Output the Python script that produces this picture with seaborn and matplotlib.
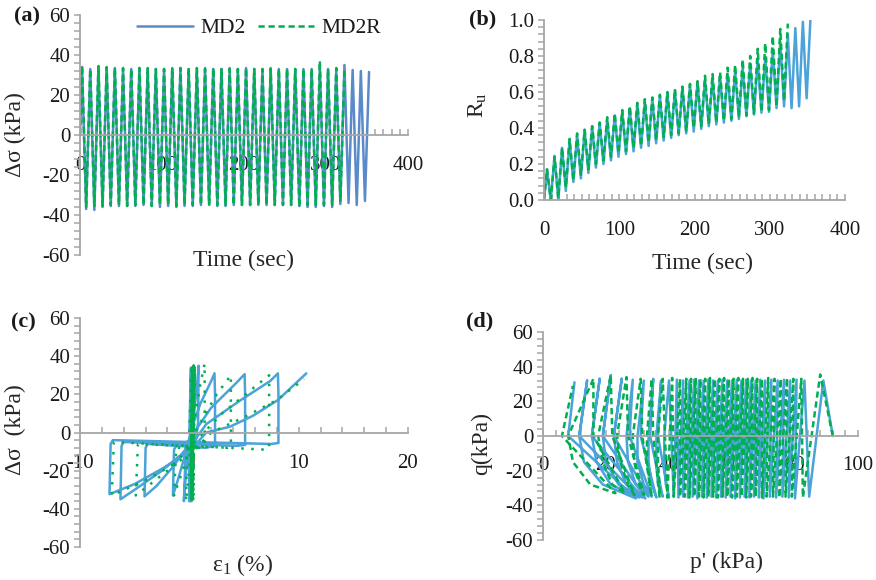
import numpy as np
import matplotlib
matplotlib.use("Agg")
import matplotlib.pyplot as plt
import seaborn as sns
from matplotlib.ticker import MultipleLocator, FormatStrFormatter
from matplotlib.lines import Line2D

# ---------------- data ----------------
cycle_start_s = [0, 10, 20, 30, 40, 50, 60, 70, 80, 90, 100, 110, 120, 130, 140, 150, 160, 170,
                 180, 190, 200, 210, 220, 230, 240, 250, 260, 270, 280, 290, 300, 310, 320, 330, 340, 350]

# (a) deviator stress peaks / troughs per loading cycle (kPa)
a_md2_peak = [34, 33, 34, 33.5, 33.5, 33, 33, 33.5, 33, 33, 33, 33.5, 33.5, 33, 33, 33.5, 33, 33,
              33.5, 33, 33.5, 33, 33, 33.5, 33, 33, 33, 33, 33, 33.5, 33, 32.5, 35, 32.5, 32, 31.5]
a_md2_trough = [-37, -37.5, -36, -35.5, -35.5, -35.5, -35.5, -35, -35.5, -36, -35.5, -36, -35.5, -35.5,
                -35, -35, -35.5, -35.5, -35, -35, -35, -35, -35, -35, -35, -35, -35.5, -36, -36, -35.5,
                -36, -34.5, -34, -35, -33]
a_md2r_peak = [34.5, 33, 34.5, 34, 33.5, 33.5, 33, 33.5, 33.5, 33, 33, 33.5, 33.5, 33.5, 33.5, 33, 33.5,
               33, 33, 33, 33.5, 33, 33, 33, 33, 33, 33, 33, 33, 37, 33, 33.5, 32.5]
a_md2r_trough = [-36, -35.5, -35.5, -35, -35, -35.5, -35, -35, -35.5, -35, -35, -35.5, -35, -35, -35, -35,
                 -35, -35, -35, -35, -35, -35, -35, -35, -35, -35, -36, -35, -35, -35, -35, -33]

# (b) excess pore pressure ratio peaks / troughs per cycle
b_md2_peak = [0.17, 0.245, 0.29, 0.33, 0.36, 0.39, 0.41, 0.43, 0.45, 0.47, 0.49, 0.51, 0.53, 0.55, 0.565,
              0.58, 0.595, 0.61, 0.625, 0.64, 0.655, 0.67, 0.68, 0.69, 0.70, 0.715, 0.735, 0.755, 0.775,
              0.79, 0.83, 0.88, 0.92, 0.955, 0.99, 1.0]
b_md2_trough = [0.0, 0.0, 0.05, 0.10, 0.12, 0.15, 0.18, 0.2, 0.22, 0.24, 0.255, 0.27, 0.29, 0.30, 0.315,
                0.33, 0.345, 0.36, 0.37, 0.38, 0.395, 0.41, 0.42, 0.43, 0.44, 0.45, 0.465, 0.475, 0.485,
                0.49, 0.51, 0.52, 0.51, 0.52, 0.565]
b_md2r_peak = [0.17, 0.24, 0.29, 0.34, 0.37, 0.39, 0.41, 0.43, 0.46, 0.48, 0.50, 0.52, 0.54, 0.56, 0.57,
               0.585, 0.60, 0.615, 0.63, 0.645, 0.66, 0.69, 0.70, 0.71, 0.735, 0.75, 0.78, 0.80, 0.84,
               0.87, 0.91, 0.95, 0.98]
b_md2r_trough = [0.0, 0.01, 0.07, 0.11, 0.14, 0.17, 0.2, 0.22, 0.24, 0.26, 0.27, 0.29, 0.30, 0.32, 0.33,
                 0.35, 0.36, 0.37, 0.38, 0.40, 0.41, 0.42, 0.43, 0.44, 0.45, 0.46, 0.47, 0.48, 0.49, 0.50,
                 0.52, 0.55]

# (c) stress-strain loops (axial strain %, deviator stress kPa)
c_md2_strain = [0.0, 0.15, 0.0, 0.2, 0.05, 0.25, 0.1, 0.3, 0.15, 0.35, 0.2, 0.4, 0.2, 0.45, 0.1,
                0.5, 0.3, -0.3, -0.5,
                -0.3, 0.1, 0.4, 0.7, 0.85,
                0.8, 0.6, -1.2, -1.4, -1.5,
                -1.0, -0.3, 0.2, 1.0, 2.0, 2.3,
                2.35, 2.35, 1.5, -3.8, -4.0, -4.1,
                -3.0, -1.5, 0.0, 0.64, 2.0, 4.3, 5.06,
                5.1, 5.1, 4.3, -6.0, -6.2, -6.3,
                -5.0, -2.5, 0.0, 1.55, 4.6, 7.4, 8.1,
                8.15, 8.15, 7.5, -7.0, -7.2, -7.3,
                -5.0, -2.5, 0.0, 1.55, 3.7, 5.8, 8.1, 10.7]
c_md2_stress = [0, 34, -36, 33, -35, 33, -35, 33, -35, 33, -35, 33, -36, 33, -36,
                33, -5, -5, -36,
                -20, -5, 8, 25, 35,
                5, -4, -7, -9, -33,
                -24, -10, 2, 15, 27, 31,
                20, -7, -8, -6, -8, -33.5,
                -28, -18, -6, 1.7, 13, 26, 30.6,
                20, -6.5, -7, -5, -7, -35,
                -30, -20, -8, 4.4, 16.6, 27, 31,
                20, -5.5, -6, -4, -6, -32.3,
                -27, -19, -10, 0, 3, 8.7, 17, 31]
c_md2r_strain = [0.0, 0.2, 0.15, 0.25, 0.2, 0.3, 0.2, 0.3, 0.25, 0.35, 0.3, 0.4, 0.3, 0.45, 0.35,
                 0.25, 0.15, 0.3, 0.2, 0.35, 0.25, 0.4, 0.3, 0.45, 0.35,
                 0.5, 0.3, -0.2, -0.3,
                 0.3, 1.0, 1.4,
                 1.4, 1.2, -1.2, -1.4,
                 -0.5, 0.5, 2.5, 3.8,
                 3.8, 3.5, -4.7, -4.9,
                 -2.0, 0.5, 3.0, 6.0, 7.3,
                 7.3, 7.0, -6.9, -7.1,
                 -4.0, 0.0, 2.0, 5.0, 8.0, 10.5]
c_md2r_stress = [0, 35, -35, 34, -35, 34, -35, 34, -35, 34, -36, 35, -36, 34, -35,
                 34, -35, 34, -35, 34, -36, 34, -35, 35, -35,
                 34, -4, -6, -36,
                 0, 25, 36,
                 -5, -8, -8, -33,
                 -18, 0, 20, 30,
                 -7, -8, -6, -33,
                 -20, -5, 10, 24, 30,
                 -8, -9, -5, -33,
                 -25, -12, 0, 8, 17, 28]

# (d) effective stress path: per-cycle compression tops and extension bottoms (kPa)
d_start = [92, 0]
d_md2_p_top = [89, 83, 80.5, 78.5, 76.5, 74.5, 72.5, 70.5, 69, 67.5, 66, 64.5, 63, 61.5, 60, 58.5, 57,
               55.5, 54, 52.5, 51, 49.5, 48, 46.5, 44.5, 42.5,
               40, 37.5, 35, 32, 28.5, 25, 21.5, 18, 14, 10]
d_md2_q_top = [32, 32, 32.5, 32, 32.5, 32, 32.5, 32, 32.5, 32, 32, 32.5, 32, 32.5, 32, 32, 32.5, 32, 32,
               32.5, 32, 32, 32.5, 32, 32, 32.5, 32, 32, 33, 32, 32.5, 33, 35, 33, 32, 31]
d_md2_p_bot = [84.5, 80, 78, 76, 74, 72, 70, 68.5, 67, 65.5, 64, 62.5, 61, 59.5, 58, 56.5, 55, 53.5, 52,
               50.5, 49, 47.5, 46, 44.5, 43, 41.5,
               40, 38, 36, 34.5, 33.5, 32.5, 31.5, 30.5, 29.5]
d_md2_q_bot = [-35, -36, -35.5, -35, -35.5, -35, -36, -35.5, -35, -35.5, -35, -35.5, -36, -35, -35.5,
               -35, -35.5, -35, -35.5, -35, -36, -35, -35.5, -35, -35.5, -35, -35.5, -35, -35.5, -35,
               -35, -36, -35.5, -35.5, -36]
d_md2_late_from = 26
d_md2_late_p_dn0 = [38.5, 36, 33.5, 30, 26.5, 22.5, 19, 15.5, 11.5]
d_md2_late_p_dn15 = [38.5, 36, 33.5, 30, 27, 23.5, 20, 17, 13]
d_md2_late_p_dn28 = [39, 36.5, 34.5, 32, 29.5, 26.5, 24, 21.5, 19]
d_md2_late_p_up0 = [36.5, 34, 31, 27.5, 22.5, 19, 15.5, 11.5, 8]

d_md2r_p_top = [88, 82, 79.5, 77.5, 75.5, 73.5, 71.5, 69.5, 68, 66.5, 65, 63.5, 62, 60.5, 59, 57.5, 56,
                54.5, 53, 51.5, 50, 48.5, 47, 45.5, 43.5, 41,
                38, 34.5, 31, 26.5, 21.5, 16, 9.5]
d_md2r_q_top = [35.5, 33, 33, 33.5, 33, 33, 33.5, 33, 33, 33.5, 33, 33, 33.5, 33, 33, 33.5, 33, 33, 33.5,
                33, 33, 33.5, 33, 33, 33, 33.5, 33, 33, 33, 34, 35, 33, 29]
d_md2r_p_bot = [82.5, 79, 77, 75, 73, 71, 69.5, 67.5, 66, 64.5, 63, 61.5, 60, 58.5, 57, 55.5, 54, 52.5,
                51, 49.5, 48, 46.5, 45, 43.5, 41.5, 39.5,
                37, 34.5, 32, 29, 26, 23]
d_md2r_q_bot = [-35.5, -35, -35, -35.5, -35, -35, -35.5, -35, -35, -35.5, -35, -35, -35.5, -35, -35,
                -35.5, -35, -35, -35.5, -35, -35, -35.5, -35, -35, -35, -35.5, -35, -35, -34, -34, -33, -33]
d_md2r_late_from = 26
d_md2r_late_p_dn0 = [36.5, 33, 28.5, 23.5, 17.5, 8]
d_md2r_late_p_dn15 = [36.5, 33, 29, 24.5, 19, 9.5]
d_md2r_late_p_dn28 = [37, 34, 30.5, 27, 22, 15]
d_md2r_late_p_up0 = [35, 31.5, 27, 22, 16, 6]


# ---------------- helpers ----------------
def cyclic_series(starts, hi_offset, lo_offset, highs, lows):
    xs, ys = [0.0], [0.0]
    for k, h in enumerate(highs):
        xs.append(starts[k] + hi_offset); ys.append(h)
        if k < len(lows):
            xs.append(starts[k] + lo_offset); ys.append(lows[k])
    return xs, ys


def stress_path(start, ptop, qtop, pbot, qbot, late_from, dn0, dn15, dn28, up0):
    ps, qs = [start[0]], [start[1]]
    for k in range(len(ptop)):
        ps.append(ptop[k]); qs.append(qtop[k])
        if k < len(pbot):
            j = k - late_from
            if j >= 0:
                ps += [dn0[j], dn15[j], dn28[j]]; qs += [0, -15, -28]
            ps.append(pbot[k]); qs.append(qbot[k])
            if j >= 0:
                ps.append(up0[j]); qs.append(0)
    return ps, qs


# ---------------- style ----------------
sns.set_theme(style="white")
plt.rcParams.update({
    "font.family": ["Liberation Serif", "DejaVu Serif"],
    "axes.unicode_minus": False,
    "mathtext.fontset": "custom",
    "mathtext.rm": "Liberation Serif",
    "mathtext.it": "Liberation Serif:italic",
    "text.color": "#1a1a1a",
})

BLUE_A = "#5B8AC9"
BLUE = "#4BA3DA"
GREEN = "#00B050"
GRAY = "#A6A6A6"
DASH = (0, (2.5, 1.5))
DOT = (0, (1, 3))
LW = 1.8

W, H = 876, 580
fig = plt.figure(figsize=(W / 100, H / 100), dpi=100)


def add_axes(l, r, t, b):
    return fig.add_axes([l / W, 1 - b / H, (r - l) / W, (b - t) / H])


axA = add_axes(80, 408, 15, 255)
axB = add_axes(544, 845, 20, 200)
axC = add_axes(80, 408, 318, 547)
axD = add_axes(543, 858, 332, 540)


def style(ax, xlim, ylim, xmaj, xmin, ymaj, ymin, xpad):
    ax.set_xlim(*xlim); ax.set_ylim(*ylim)
    ax.grid(False)
    ax.patch.set_alpha(0)
    ax.spines["top"].set_visible(False); ax.spines["right"].set_visible(False)
    ax.spines["bottom"].set_position(("data", 0))
    ax.spines["left"].set_position(("data", xlim[0]))
    for s in ("bottom", "left"):
        ax.spines[s].set_color(GRAY); ax.spines[s].set_linewidth(1.3)
    ax.xaxis.set_major_locator(MultipleLocator(xmaj)); ax.xaxis.set_minor_locator(MultipleLocator(xmin))
    ax.yaxis.set_major_locator(MultipleLocator(ymaj)); ax.yaxis.set_minor_locator(MultipleLocator(ymin))
    ax.tick_params(axis="x", which="both", direction="in", length=4, width=1.1, color=GRAY,
                   pad=xpad, labelsize=15, labelcolor="#1a1a1a", bottom=True)
    ax.tick_params(axis="y", which="both", direction="out", length=4, width=1.1, color=GRAY,
                   pad=3, labelsize=15, labelcolor="#1a1a1a", left=True)


def labels(ax, xl, xpos, yl, ypos):
    ax.set_xlabel(xl, fontsize=17)
    ax.xaxis.set_label_coords(*xpos)
    ax.xaxis.label.set_va("center")
    ax.set_ylabel(yl, fontsize=17)
    ax.yaxis.set_label_coords(*ypos)
    ax.yaxis.label.set_va("center")


# (a)
x, y = cyclic_series(cycle_start_s, 2.5, 7.5, a_md2_peak, a_md2_trough)
sns.lineplot(x=x, y=y, ax=axA, color=BLUE_A, lw=LW, estimator=None, sort=False)
x, y = cyclic_series(cycle_start_s, 2.5, 7.5, a_md2r_peak, a_md2r_trough)
sns.lineplot(x=x, y=y, ax=axA, color=GREEN, lw=LW, linestyle=DASH, estimator=None, sort=False)
style(axA, (0, 400), (-60, 60), 100, 10, 20, 4, 15)
labels(axA, "Time (sec)", (0.497, -0.021), "Δσ (kPa)", (-0.198, 0.5))
axA.legend(handles=[Line2D([], [], color=BLUE_A, lw=LW, label="MD2"),
                    Line2D([], [], color=GREEN, lw=LW, linestyle=DASH, label="MD2R")],
           loc="center", bbox_to_anchor=((259 - 80) / 328, (255 - 28) / 240), ncol=2, frameon=False,
           fontsize=15.5, handlelength=2.6, handletextpad=0.35, columnspacing=0.6,
           borderpad=0, borderaxespad=0)

# (b)
x, y = cyclic_series(cycle_start_s, 4, 9, b_md2_peak, b_md2_trough)
sns.lineplot(x=x, y=y, ax=axB, color=BLUE, lw=LW, estimator=None, sort=False)
x, y = cyclic_series(cycle_start_s, 4, 9, b_md2r_peak, b_md2r_trough)
sns.lineplot(x=x, y=y, ax=axB, color=GREEN, lw=LW, linestyle=DASH, estimator=None, sort=False)
style(axB, (0, 400), (0, 1.0), 100, 10, 0.2, 0.04, 15)
axB.yaxis.set_major_formatter(FormatStrFormatter("%.1f"))
labels(axB, "Time (sec)", (0.525, -0.35), r"R$_\mathregular{u}$", (-0.219, 0.528))

# (c)
sns.lineplot(x=c_md2_strain, y=c_md2_stress, ax=axC, color=BLUE, lw=LW, estimator=None, sort=False)
sns.lineplot(x=c_md2r_strain, y=c_md2r_stress, ax=axC, color=GREEN, lw=LW, linestyle=DOT,
             estimator=None, sort=False)
style(axC, (-10, 20), (-60, 60), 10, 2, 20, 4, 15.5)
labels(axC, r"ε$_\mathregular{1}$ (%)", (0.497, -0.079), "Δσ  (kPa)", (-0.198, 0.511))

# (d)
p, q = stress_path(d_start, d_md2_p_top, d_md2_q_top, d_md2_p_bot, d_md2_q_bot, d_md2_late_from,
                   d_md2_late_p_dn0, d_md2_late_p_dn15, d_md2_late_p_dn28, d_md2_late_p_up0)
sns.lineplot(x=p, y=q, ax=axD, color=BLUE, lw=LW, estimator=None, sort=False)
p, q = stress_path(d_start, d_md2r_p_top, d_md2r_q_top, d_md2r_p_bot, d_md2r_q_bot, d_md2r_late_from,
                   d_md2r_late_p_dn0, d_md2r_late_p_dn15, d_md2r_late_p_dn28, d_md2r_late_p_up0)
sns.lineplot(x=p, y=q, ax=axD, color=GREEN, lw=LW, linestyle=DASH, estimator=None, sort=False)
style(axD, (0, 100), (-60, 60), 20, 4, 20, 4, 14.5)
labels(axD, "p' (kPa)", (0.584, -0.11), "q(kPa)", (-0.194, 0.466))

# panel letters
for txt, (px, py) in {"(a)": (27, 16), "(b)": (483, 19), "(c)": (23, 322), "(d)": (480, 321)}.items():
    fig.text(px / W, 1 - py / H, txt, fontsize=16, fontweight="bold", ha="center", va="center")

fig.savefig("out.png", dpi=100)
